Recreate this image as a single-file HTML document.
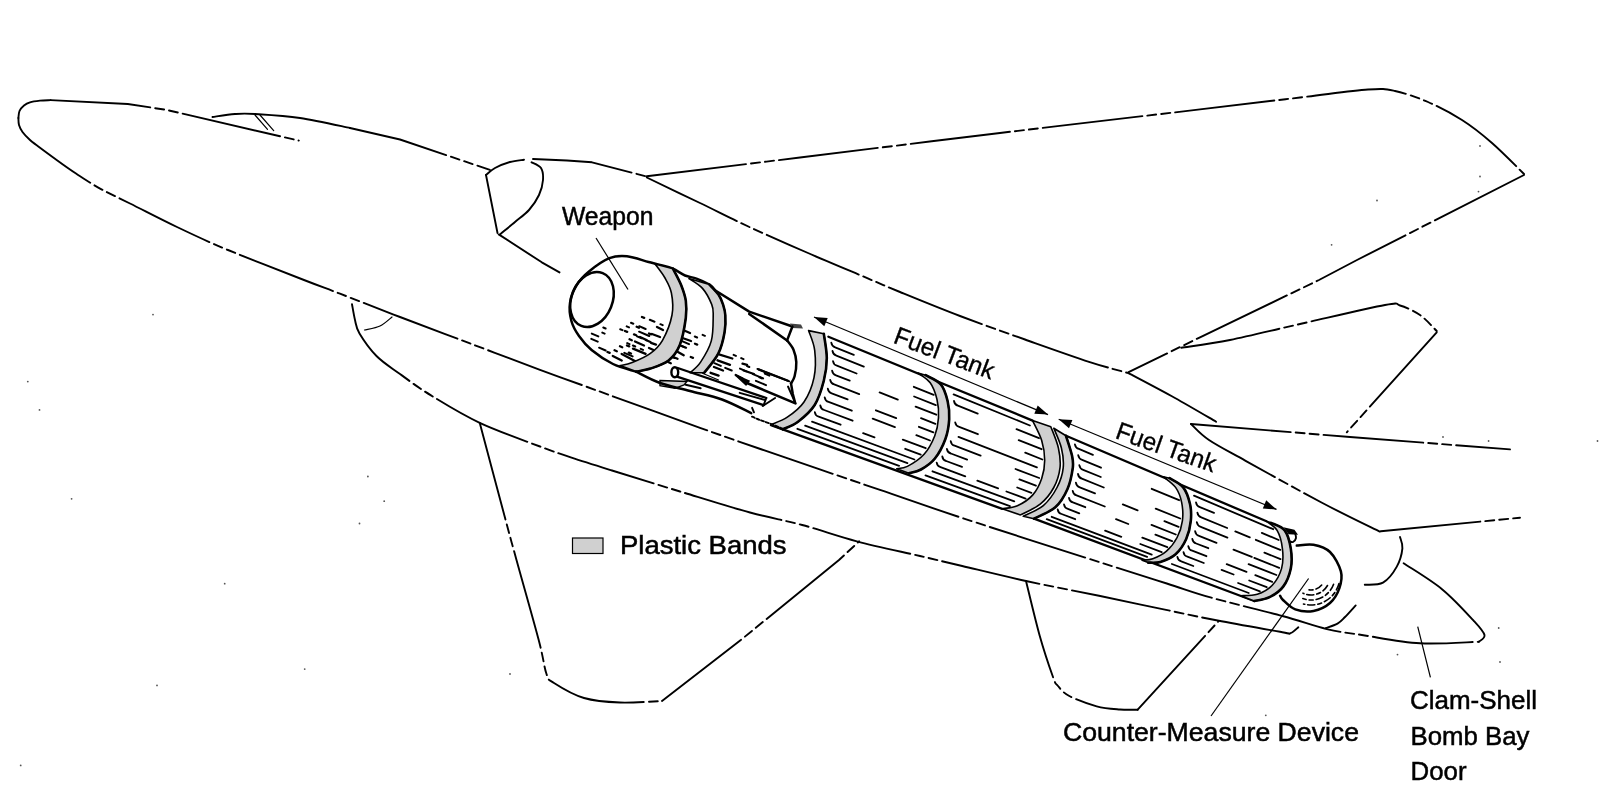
<!DOCTYPE html>
<html><head><meta charset="utf-8"><style>
html,body{margin:0;padding:0;background:#fff;width:1600px;height:790px;overflow:hidden}
svg{display:block;filter:grayscale(100%)}
.band{stroke:#000;stroke-width:1.6;stroke-linejoin:round}
.h{fill:none;stroke:#000;stroke-width:1.8;stroke-linecap:round}
.o{fill:none;stroke:#000;stroke-width:1.9;stroke-linecap:round;stroke-linejoin:round}
.d{stroke-dasharray:100 5 9 5 9 5}
.t{fill:none;stroke:#000;stroke-width:1.2}
.o.w{stroke-width:2.5}
.o.k{stroke-width:2.3}
text{font-family:"Liberation Sans",sans-serif;fill:#000;stroke:#000;stroke-width:0.5px}
</style></head><body>
<svg width="1600" height="790" viewBox="0 0 1600 790">
<path class="o" d="M 18.4,118.0 C 18.6,116.8 18.6,113.1 19.5,111.0 C 20.4,108.9 22.2,107.0 24.0,105.5 C 25.8,104.0 27.3,103.1 30.0,102.3 C 32.7,101.5 36.6,101.0 40.0,100.6 C 43.4,100.2 48.8,100.2 50.6,100.1" />
<path class="o d" d="M 50.6,100.1 L 127.8,104.0 L 167.0,110.0 L 298.8,140.6" />
<path class="o" d="M 212.5,117.0 C 216.2,116.5 227.9,114.5 235.0,114.0 C 242.1,113.5 244.2,113.3 255.0,114.0 C 265.8,114.7 284.2,115.7 300.0,118.0 C 315.8,120.3 341.7,126.3 350.0,128.0" />
<path class="o d" d="M 350.0,128.0 L 400.0,139.5 L 489.9,169.9" />
<path class="o t" d="M 255,115 L 267.5,129.4 M 260,115 L 273.7,130.6" />
<path class="o d" d="M 18.4,118.0 C 18.5,119.2 18.3,122.7 19.0,125.0 C 19.7,127.3 20.7,129.5 22.5,132.0 C 24.3,134.5 27.4,137.6 30.0,140.0 C 32.6,142.4 33.5,142.8 38.0,146.2 C 42.5,149.6 50.7,155.6 57.0,160.2 C 63.3,164.8 69.0,168.9 76.0,173.5 C 83.0,178.1 89.7,182.8 98.7,187.8 C 107.7,192.8 117.0,197.0 130.0,203.5 C 143.1,210.0 160.7,219.2 177.0,227.0 C 193.3,234.8 206.8,241.2 228.0,250.0 C 249.2,258.8 285.3,272.7 304.0,280.0 C 322.7,287.3 324.0,287.5 340.0,293.7 C 356.0,299.9 378.3,308.7 400.0,317.0 C 421.7,325.3 446.7,334.6 470.0,343.4 C 493.3,352.2 519.2,362.1 540.0,369.8 C 560.8,377.5 568.3,380.1 595.0,389.8 C 621.7,399.5 667.5,416.2 700.0,427.8 C 732.5,439.4 760.0,448.9 790.0,459.2 C 820.0,469.5 851.3,480.1 880.0,489.9 C 908.7,499.7 925.5,505.9 962.2,518.0 C 998.9,530.1 1065.9,551.4 1100.0,562.3 C 1134.1,573.2 1148.2,577.6 1166.8,583.5 C 1185.4,589.4 1192.2,592.3 1211.4,597.7 C 1230.7,603.1 1263.1,610.8 1282.3,616.0 C 1301.5,621.2 1313.3,625.9 1326.8,629.1 C 1340.3,632.3 1347.8,632.8 1363.3,635.2 C 1378.8,637.6 1400.8,642.2 1420.0,643.3 C 1439.2,644.4 1469.0,642.0 1478.8,641.8" />
<path class="o" d="M 1478.8,641.8 C 1479.8,640.7 1485.3,638.4 1484.5,635.0 C 1483.7,631.6 1481.2,628.9 1474.2,621.3 C 1467.2,613.7 1454.1,599.1 1442.3,589.4 C 1430.5,579.7 1410.0,567.6 1403.6,563.2" />
<path class="o d" d="M 352.0,304.3 C 352.5,306.9 353.8,315.1 355.0,320.0 C 356.2,324.9 355.9,327.5 359.5,333.5 C 363.1,339.5 369.8,349.2 376.5,356.0 C 383.2,362.8 390.9,367.4 400.0,374.0 C 409.1,380.6 417.7,387.3 431.0,395.4 C 444.3,403.5 461.5,414.3 479.7,422.8 C 497.9,431.3 524.7,440.7 540.0,446.5 C 555.3,452.3 559.5,453.7 571.5,457.7 C 583.5,461.7 593.9,464.9 612.0,470.5 C 630.1,476.1 657.0,484.5 680.0,491.5 C 703.0,498.5 729.6,506.9 750.0,512.5 C 770.4,518.1 784.4,520.2 802.2,525.0 C 820.0,529.8 837.2,536.1 856.8,541.3 C 876.4,546.5 902.4,551.9 920.0,556.0 C 937.6,560.1 944.5,561.8 962.2,566.0 C 979.9,570.2 1003.2,576.0 1026.0,581.0 C 1048.8,586.0 1076.7,591.2 1099.0,595.8 C 1121.3,600.4 1139.6,604.4 1160.0,608.6 C 1180.4,612.9 1201.1,617.4 1221.5,621.3 C 1241.9,625.2 1270.8,630.2 1282.3,632.2 C 1293.8,634.2 1287.7,634.1 1290.4,633.2 C 1293.1,632.4 1297.2,628.1 1298.5,627.1" />
<path class="o t" d="M 364.5,330.0 C 367.1,329.3 375.4,328.2 380.0,326.0 C 384.6,323.8 390.0,318.5 392.0,317.0" />
<path class="o d" d="M 486.0,175.0 L 497.5,233.0" />
<path class="o" d="M 486.0,175.0 C 487.5,173.8 491.0,170.2 495.0,168.0 C 499.0,165.8 505.2,163.4 510.0,162.0 C 514.8,160.6 521.7,160.1 524.0,159.7" />
<path class="o d" d="M 533.0,159.0 L 567.0,160.5 L 592.0,162.3 L 645.6,176.2" />
<path class="o d" d="M 531.6,162.3 C 533.2,163.2 539.1,165.1 541.0,168.0 C 542.9,170.9 543.3,175.5 543.0,180.0 C 542.7,184.5 541.3,190.0 539.0,195.0 C 536.7,200.0 533.0,205.5 529.0,210.0 C 525.0,214.5 519.8,217.9 515.0,222.0 C 510.2,226.1 502.5,232.3 500.0,234.4" />
<path class="o d" d="M 498.7,234.4 L 541.8,262.3 L 559.5,272.4" />
<path class="o d" d="M 646.8,177.5 C 655.7,181.8 682.9,194.8 700.0,203.0 C 717.1,211.2 731.4,218.7 749.4,227.0 C 767.4,235.3 788.3,244.4 808.0,253.0 C 827.7,261.6 852.5,271.9 867.8,278.4 C 883.1,284.9 884.6,285.7 900.0,292.0 C 915.4,298.3 939.2,308.1 960.0,316.0 C 980.8,323.9 1003.5,331.9 1025.0,339.5 C 1046.5,347.1 1071.7,356.1 1089.0,361.8 C 1106.3,367.4 1122.0,371.3 1128.6,373.2" />
<path class="o d" d="M 1128.6,373.2 C 1136.3,377.3 1159.8,389.5 1175.0,398.0 C 1190.2,406.5 1212.5,419.7 1220.0,424.0" />
<path class="o d" d="M 646.8,176.2 C 672.3,173.1 741.1,164.7 800.0,157.5 C 858.9,150.3 933.3,141.0 1000.0,133.0 C 1066.7,125.0 1150.0,115.3 1200.0,109.4 C 1250.0,103.5 1272.0,100.8 1300.0,97.5 C 1328.0,94.2 1352.2,90.6 1368.0,89.5 C 1383.8,88.4 1385.0,88.9 1395.0,91.0 C 1405.0,93.1 1416.8,97.2 1428.0,102.0 C 1439.2,106.8 1451.3,113.2 1462.0,120.0 C 1472.7,126.8 1481.7,134.0 1492.0,143.0 C 1502.3,152.0 1518.7,168.8 1524.0,174.0" />
<path class="o d" d="M 1524.0,175.0 L 1357.0,260.0 L 1319.0,280.0 L 1200.0,337.3 L 1128.6,372.2" />
<path class="o d" d="M 1181.3,347.8 C 1189.4,346.5 1210.2,344.0 1230.0,340.0 C 1249.8,336.0 1274.2,329.8 1300.0,324.0 C 1325.8,318.2 1368.3,308.1 1385.0,305.0 C 1401.7,301.9 1394.2,303.8 1400.0,305.5 C 1405.8,307.2 1413.9,310.8 1420.0,315.0 C 1426.1,319.2 1433.9,328.3 1436.7,331.0" />
<path class="o d" d="M 1436.7,332.3 L 1346.8,432.3" />
<path class="o d" d="M 1191.0,424.0 L 1350.0,437.0 L 1510.0,449.4" />
<path class="o d" d="M 1191.0,424.0 C 1194.0,426.7 1199.9,433.9 1209.0,440.0 C 1218.1,446.1 1226.8,450.4 1245.6,460.8 C 1264.3,471.2 1299.2,490.7 1321.5,502.5 C 1343.8,514.3 1370.0,526.8 1379.7,531.6" />
<path class="o d" d="M 1380.8,531.3 L 1520.0,517.7" />
<path class="o d" d="M 1400.0,537.0 C 1400.4,538.9 1402.9,543.5 1402.4,548.4 C 1401.9,553.3 1400.0,560.9 1396.8,566.6 C 1393.6,572.3 1388.3,579.6 1383.0,582.6 C 1377.7,585.6 1367.8,584.4 1364.8,584.8" />
<path class="o d" d="M 1355.7,605.4 C 1353.9,607.3 1348.0,614.0 1345.0,617.0 C 1342.0,620.0 1340.7,621.8 1337.5,623.6 C 1334.3,625.4 1327.9,627.3 1326.0,628.0" />
<path class="o d" d="M 479.7,422.8 C 484.0,439.0 499.5,497.1 505.6,520.0 C 511.7,542.9 511.0,540.0 516.5,560.0 C 522.0,580.0 533.7,621.0 538.7,640.0 C 543.7,659.0 544.0,666.8 546.5,674.0 C 549.0,681.2 547.8,679.0 554.0,683.0 C 560.2,687.0 573.0,694.8 584.0,698.0 C 595.0,701.2 607.0,702.0 620.0,702.5 C 633.0,703.0 655.0,701.2 662.0,701.0" />
<path class="o d" d="M 662.0,701.0 L 740.8,640.0 L 839.0,560.0 L 859.2,541.3" />
<path class="o d" d="M 1026.0,581.0 C 1028.3,590.1 1035.2,619.7 1039.7,635.7 C 1044.2,651.7 1050.0,668.6 1053.0,677.0 C 1056.0,685.4 1055.3,682.8 1058.0,686.0 C 1060.7,689.2 1062.8,692.6 1069.3,696.0 C 1075.8,699.4 1088.2,704.0 1096.7,706.3 C 1105.2,708.5 1113.2,708.9 1120.0,709.5 C 1126.8,710.1 1134.8,709.7 1137.7,709.7" />
<path class="o d" d="M 1137.7,709.7 L 1218.5,621.2" />
<path class="t" d="M 596,238 L 628,289.5" />
<path class="t" d="M 1308.6,578.5 L 1211,716" />
<path class="t" d="M 1417.7,626.7 L 1430.4,677.3" />
<path class="h" d="M 831.3,342.7 Q 831.9,346.5 835.2,347.3 L 853.8,354.9 M 832.5,351.0 Q 833.2,354.7 836.4,355.6 L 863.8,366.6 M 913.8,386.8 L 933.7,394.8 M 833.0,361.1 Q 833.7,364.9 836.9,365.7 L 856.6,373.5 M 914.1,396.5 L 935.8,405.1 M 832.1,370.7 Q 832.7,374.5 836.0,375.3 L 849.7,380.6 M 879.6,392.4 L 897.8,399.6 M 915.6,406.6 L 936.3,414.7 M 830.2,379.8 Q 830.9,383.6 834.2,384.4 L 859.2,394.1 M 921.0,418.2 L 935.4,423.8 M 827.8,388.7 Q 828.4,392.5 831.7,393.3 L 847.6,399.4 M 875.9,410.3 L 896.2,418.1 M 918.9,426.8 L 933.4,432.4 M 824.7,397.3 Q 825.3,401.1 828.6,401.9 L 851.8,410.7 M 872.7,418.6 L 894.9,427.1 M 916.3,435.2 L 930.0,440.5 M 820.3,405.5 Q 820.9,409.2 824.2,410.0 L 852.6,420.7 M 902.8,439.6 L 925.7,448.2 M 814.8,412.1 Q 815.4,415.9 818.7,416.6 L 840.6,424.7 M 863.1,433.1 L 874.5,437.4 M 905.2,448.8 L 920.7,454.6 M 812.0,421.7 L 914.4,459.5 M 805.1,425.7 L 907.4,463.1 M 797.4,428.8 L 899.1,465.8 M 953.6,394.4 L 1029.9,425.5 M 954.0,401.0 Q 954.6,404.8 957.9,405.6 L 977.7,413.6 M 1016.5,429.2 L 1039.0,438.2 M 1018.7,440.2 L 1041.6,449.2 M 955.2,422.3 Q 955.9,426.0 959.2,426.8 L 977.9,434.2 M 1025.2,452.7 L 1042.4,459.5 M 958.5,436.9 L 1036.9,467.3 M 950.7,441.1 Q 951.3,444.9 954.6,445.7 L 980.6,455.6 M 1015.5,469.0 L 1039.2,478.0 M 946.9,449.0 Q 947.6,452.8 950.9,453.5 L 967.1,459.6 M 1019.4,479.4 L 1035.9,485.7 M 942.3,456.5 Q 942.9,460.3 946.2,461.0 L 962.0,466.9 M 1017.2,487.5 L 1031.4,492.8 M 936.7,462.6 Q 937.3,466.4 940.6,467.1 L 965.3,476.3 M 977.3,480.7 L 998.1,488.4 M 1006.4,491.5 L 1025.6,498.6 M 932.5,471.3 L 1014.3,501.3 M 925.5,475.4 L 1009.9,506.1 M 1074.9,444.3 Q 1075.6,448.1 1078.9,448.9 L 1092.9,454.8 M 1078.2,455.2 Q 1078.9,459.0 1082.2,459.8 L 1101.0,467.7 M 1151.7,488.8 L 1179.1,500.2 M 1079.3,465.1 Q 1080.0,468.9 1083.2,469.8 L 1100.8,477.0 M 1078.0,474.0 Q 1078.6,477.8 1081.9,478.7 L 1103.8,487.5 M 1155.7,508.6 L 1180.2,518.5 M 1075.9,482.6 Q 1076.5,486.4 1079.8,487.3 L 1095.0,493.3 M 1122.8,504.4 L 1137.6,510.4 M 1164.4,521.1 L 1178.6,526.8 M 1072.7,490.8 Q 1073.4,494.6 1076.6,495.4 L 1104.8,506.5 M 1151.5,524.9 L 1175.8,534.5 M 1069.0,497.8 Q 1069.6,501.6 1072.9,502.4 L 1085.3,507.2 M 1116.0,519.2 L 1128.3,524.0 M 1155.4,534.6 L 1172.1,541.1 M 1064.0,504.4 Q 1064.6,508.1 1067.9,508.9 L 1079.3,513.3 M 1142.3,537.6 L 1167.3,547.2 M 1057.7,509.5 Q 1058.3,513.2 1061.6,514.0 L 1075.2,519.2 M 1105.1,530.6 L 1121.3,536.8 M 1140.3,544.0 L 1161.7,552.2 M 1051.7,516.8 L 1151.7,554.6 M 1046.7,519.2 L 1147.1,556.9 M 1194.0,495.7 L 1273.2,529.2 M 1196.0,502.4 Q 1196.6,506.2 1199.9,507.1 L 1214.0,512.9 M 1261.8,532.9 L 1278.7,540.0 M 1197.4,512.7 Q 1198.0,516.5 1201.3,517.4 L 1227.2,528.0 M 1235.3,531.4 L 1249.8,537.3 M 1255.8,539.8 L 1280.3,549.9 M 1196.8,522.2 Q 1197.5,526.0 1200.8,526.8 L 1227.4,537.6 M 1264.4,552.6 L 1280.5,559.1 M 1195.1,531.2 Q 1195.7,535.0 1199.0,535.8 L 1216.5,542.8 M 1233.5,549.6 L 1251.8,556.9 M 1254.3,557.9 L 1279.2,567.8 M 1192.3,538.9 Q 1192.9,542.7 1196.2,543.5 L 1208.3,548.2 M 1248.6,564.1 L 1276.4,575.0 M 1188.3,546.1 Q 1188.9,549.9 1192.2,550.7 L 1206.4,556.2 M 1226.7,564.1 L 1246.5,571.8 M 1255.3,575.2 L 1272.2,581.8 M 1183.5,552.2 Q 1184.1,556.0 1187.4,556.7 L 1203.8,563.0 M 1221.6,569.9 L 1233.6,574.5 M 1249.2,580.5 L 1266.7,587.2 M 1177.4,556.9 Q 1178.0,560.7 1181.3,561.4 L 1193.3,566.0 M 1238.1,583.0 L 1259.9,591.3 M 1171.9,564.0 L 1248.7,593.0"/>
<path class="o k" d="M 828.4,336.7 L 1032.6,420.6" />
<path class="o k" d="M 771.0,425.2 L 1002.2,508.8" />
<path class="o k" d="M 1066.0,435.8 L 1266.5,521.3" />
<path class="o k" d="M 1034.0,518.7 L 1254.3,601.0" />
<path class="band" d="M 823.8,333.7 C 824.3,337.8 826.8,350.1 826.8,358.0 C 826.8,365.9 825.8,373.0 823.8,380.8 C 821.8,388.6 819.0,398.2 814.7,405.0 C 810.4,411.8 803.3,417.7 798.0,421.8 C 792.7,425.9 785.3,428.1 782.8,429.4  L 770.6,424.8 C 773.4,423.5 781.7,421.0 787.3,417.2 C 792.9,413.4 799.5,408.6 804.0,402.0 C 808.5,395.4 812.2,386.3 814.0,377.7 C 815.8,369.1 815.6,358.2 814.7,350.4 C 813.8,342.5 809.6,333.9 808.6,330.6  Z" fill="#d0d0d0"/>
<path class="o" d="M 823.8,333.7 C 824.3,337.8 826.8,350.1 826.8,358.0 C 826.8,365.9 825.8,373.0 823.8,380.8 C 821.8,388.6 819.0,398.2 814.7,405.0 C 810.4,411.8 803.3,417.7 798.0,421.8 C 792.7,425.9 785.3,428.1 782.8,429.4 " style="stroke-width:2.6"/>
<path class="band" d="M 925.6,375.2 C 928.1,376.7 937.1,380.0 940.8,384.3 C 944.5,388.6 946.2,395.2 947.6,401.0 C 949.0,406.8 949.6,413.0 949.2,419.3 C 948.8,425.6 947.8,432.4 945.4,439.0 C 943.0,445.6 938.8,453.7 934.7,458.8 C 930.6,463.9 925.3,467.1 921.0,469.5 C 916.7,471.9 910.9,472.7 908.9,473.3  L 896.7,468.7 C 898.5,468.3 902.8,468.8 907.4,466.4 C 912.0,464.0 919.5,459.4 924.1,454.3 C 928.7,449.2 932.3,442.1 934.7,436.0 C 937.1,429.9 938.1,423.9 938.5,417.8 C 938.9,411.7 938.4,405.3 937.0,399.5 C 935.6,393.7 933.4,387.2 930.2,382.8 C 927.0,378.4 920.0,374.5 918.0,372.9  Z" fill="#d0d0d0"/>
<path class="o" d="M 925.6,375.2 C 928.1,376.7 937.1,380.0 940.8,384.3 C 944.5,388.6 946.2,395.2 947.6,401.0 C 949.0,406.8 949.6,413.0 949.2,419.3 C 948.8,425.6 947.8,432.4 945.4,439.0 C 943.0,445.6 938.8,453.7 934.7,458.8 C 930.6,463.9 925.3,467.1 921.0,469.5 C 916.7,471.9 910.9,472.7 908.9,473.3 " style="stroke-width:2.6"/>
<path class="band" d="M 1050.8,426.7 C 1052.1,430.2 1056.9,441.1 1058.4,448.0 C 1059.9,454.9 1060.8,461.2 1060.0,467.8 C 1059.2,474.4 1057.1,481.4 1053.8,487.5 C 1050.5,493.6 1045.8,499.6 1040.2,504.2 C 1034.6,508.8 1023.7,513.1 1020.4,514.9  L 1002.2,508.8 C 1004.7,508.3 1012.3,508.0 1017.4,505.7 C 1022.5,503.4 1028.5,499.7 1032.6,495.1 C 1036.6,490.6 1039.7,484.2 1041.7,478.4 C 1043.7,472.6 1044.7,466.5 1044.7,460.2 C 1044.7,453.9 1043.7,447.0 1041.7,440.4 C 1039.7,433.8 1034.1,423.9 1032.6,420.6  Z" fill="#d0d0d0"/>
<path class="band" d="M 1066.0,435.8 C 1067.0,439.1 1070.9,450.3 1072.0,455.6 C 1073.1,460.9 1073.5,462.2 1072.8,467.8 C 1072.0,473.4 1070.4,482.4 1067.5,489.0 C 1064.6,495.6 1060.9,502.4 1055.3,507.3 C 1049.7,512.2 1037.5,516.8 1034.0,518.7  L 1023.3,516.3 C 1026.6,514.5 1037.7,510.4 1043.3,505.6 C 1048.9,500.8 1053.7,493.8 1057.0,487.5 C 1060.3,481.2 1062.5,474.4 1063.2,467.8 C 1063.9,461.2 1063.0,454.6 1061.4,448.0 C 1059.8,441.4 1055.1,431.5 1053.8,428.2  Z" fill="#d0d0d0"/>
<path class="o" d="M 1066.0,435.8 C 1067.0,439.1 1070.9,450.3 1072.0,455.6 C 1073.1,460.9 1073.5,462.2 1072.8,467.8 C 1072.0,473.4 1070.4,482.4 1067.5,489.0 C 1064.6,495.6 1060.9,502.4 1055.3,507.3 C 1049.7,512.2 1037.5,516.8 1034.0,518.7 " style="stroke-width:2.6"/>
<path class="band" d="M 1169.5,478.2 C 1171.8,479.7 1179.8,483.1 1183.2,487.4 C 1186.6,491.7 1188.7,498.4 1190.0,504.0 C 1191.3,509.6 1191.4,515.0 1190.8,520.8 C 1190.2,526.6 1188.7,533.4 1186.2,539.0 C 1183.7,544.6 1179.9,550.5 1175.6,554.3 C 1171.3,558.1 1165.0,560.5 1160.4,561.9 C 1155.8,563.3 1150.2,562.5 1148.2,562.6  L 1142.2,560.3 C 1144.0,560.0 1148.8,560.3 1152.8,558.8 C 1156.8,557.3 1162.5,554.8 1166.5,551.2 C 1170.5,547.7 1174.4,542.6 1177.1,537.5 C 1179.8,532.4 1181.6,526.6 1182.4,520.8 C 1183.2,515.0 1182.8,508.2 1181.7,502.6 C 1180.6,497.0 1178.6,491.7 1175.6,487.4 C 1172.5,483.1 1165.4,478.5 1163.4,476.7  Z" fill="#d0d0d0"/>
<path class="o" d="M 1169.5,478.2 C 1171.8,479.7 1179.8,483.1 1183.2,487.4 C 1186.6,491.7 1188.7,498.4 1190.0,504.0 C 1191.3,509.6 1191.4,515.0 1190.8,520.8 C 1190.2,526.6 1188.7,533.4 1186.2,539.0 C 1183.7,544.6 1179.9,550.5 1175.6,554.3 C 1171.3,558.1 1165.0,560.5 1160.4,561.9 C 1155.8,563.3 1150.2,562.5 1148.2,562.6 " style="stroke-width:2.6"/>
<path class="band" d="M 1271.0,522.8 C 1273.3,524.1 1281.4,526.1 1284.7,530.4 C 1288.0,534.7 1289.8,542.3 1290.8,548.6 C 1291.8,554.9 1292.1,562.1 1290.8,568.4 C 1289.5,574.7 1286.8,581.8 1283.2,586.6 C 1279.7,591.4 1274.3,594.8 1269.5,597.2 C 1264.7,599.6 1256.8,600.4 1254.3,601.0  L 1240.6,595.7 C 1243.4,595.5 1252.0,596.0 1257.3,594.2 C 1262.6,592.4 1268.5,589.3 1272.5,585.0 C 1276.5,580.7 1279.9,574.5 1281.6,568.4 C 1283.2,562.3 1283.2,554.9 1282.4,548.6 C 1281.7,542.3 1279.8,535.0 1277.1,530.4 C 1274.4,525.8 1268.3,522.8 1266.5,521.3  Z" fill="#d0d0d0"/>
<path class="o" d="M 1271.0,522.8 C 1273.3,524.1 1281.4,526.1 1284.7,530.4 C 1288.0,534.7 1289.8,542.3 1290.8,548.6 C 1291.8,554.9 1292.1,562.1 1290.8,568.4 C 1289.5,574.7 1286.8,581.8 1283.2,586.6 C 1279.7,591.4 1274.3,594.8 1269.5,597.2 C 1264.7,599.6 1256.8,600.4 1254.3,601.0 " style="stroke-width:2.6"/>
<path class="h" style="stroke-width:2.3" d="M 636.7,326.8 l 2.2,0.9 M 634.0,334.4 l 2.2,0.9 M 649.0,333.5 l 2.2,0.9 M 629.6,339.3 l 2.2,0.9 M 620.0,346.3 l 2.2,0.9 M 627.0,345.5 l 2.2,0.9 M 607.5,352.0 l 2.2,0.9 M 614.6,350.3 l 2.2,0.9 M 628.8,352.6 l 2.2,0.9 M 695.0,343.7 l 2.2,0.9 M 690.8,357.0 l 2.2,0.9 M 668.6,362.3 l 2.2,0.9 M 759.6,377.3 l 2.2,0.9 M 642.0,317.0 l 2.2,0.9 M 625.0,331.0 l 2.2,0.9 M 657.0,327.0 L 663.0,330.0 M 640.0,337.0 L 646.5,340.0 M 652.0,334.0 L 660.0,337.0 M 635.0,341.5 L 644.0,345.5 M 651.0,342.8 L 656.0,344.6 M 633.0,348.6 L 645.6,353.9 M 649.0,348.0 L 653.5,350.0 M 621.7,353.9 L 635.8,361.4 M 612.8,356.0 L 621.7,360.5 M 681.0,337.5 L 691.0,341.0 M 679.0,345.0 L 686.0,347.7 M 677.5,351.7 L 683.7,355.2 M 670.5,356.0 L 677.5,358.8 M 683.0,330.0 L 690.0,333.0 M 719.7,354.6 L 732.3,358.5 M 717.5,360.3 L 730.0,364.8 M 714.0,367.0 L 723.0,370.5 M 710.6,372.8 L 718.6,375.6 M 742.5,363.7 L 747.0,364.8 M 743.7,370.5 L 754.0,374.0 M 758.5,369.4 L 788.0,380.8 M 735.7,375.0 L 742.5,378.5"/>
<path class="h" style="stroke-width:2.0" d="M 649.8,319.8 L 654.5,321.7 M 660.4,324.2 L 662.7,325.2 M 631.0,322.8 L 633.3,323.7 M 639.2,326.2 L 645.6,329.0 M 626.7,326.4 L 629.0,327.4 M 639.1,331.7 L 649.2,336.0 M 620.2,329.2 L 622.5,330.1 M 637.1,336.4 L 641.7,338.3 M 645.8,340.0 L 650.4,342.0 M 603.3,327.5 L 605.6,328.5 M 602.3,332.6 L 604.6,333.6 M 627.2,343.1 L 629.5,344.1 M 632.9,345.5 L 635.2,346.5 M 640.7,348.9 L 643.0,349.9 M 591.8,333.6 L 598.3,336.4 M 591.3,338.9 L 597.7,341.6 M 624.3,352.9 L 632.6,356.4 M 599.1,347.7 L 605.6,350.5 M 702.6,334.8 L 704.9,335.8 M 694.8,336.5 L 697.1,337.5 M 682.6,341.3 L 689.0,344.1 M 682.1,346.1 L 684.4,347.1 M 672.5,357.0 L 674.8,358.0 M 733.6,354.9 L 735.9,355.9 M 741.2,358.1 L 743.5,359.1 M 747.0,366.0 L 749.3,367.0 M 764.8,373.6 L 769.4,375.6 M 740.0,368.6 L 746.4,371.3 M 752.9,374.1 L 763.1,378.4 M 714.4,363.2 L 720.8,365.9 M 725.2,367.8 L 731.7,370.5 M 755.9,380.8 L 766.0,385.1"/>
<path class="o w" d="M 636.0,371.6 C 632.2,370.3 620.4,367.6 613.0,364.0 C 605.6,360.4 597.3,354.7 591.6,350.0 C 585.9,345.3 582.4,340.8 579.0,336.0 C 575.6,331.2 572.9,326.5 571.4,321.0 C 569.9,315.5 569.1,308.9 570.0,303.0 C 570.9,297.1 573.3,290.6 576.5,285.4 C 579.7,280.1 583.5,276.0 589.0,271.5 C 594.5,267.0 603.1,260.7 609.4,258.2 C 615.7,255.7 620.5,255.7 627.0,256.3 C 633.5,256.9 643.1,260.6 648.6,262.0 C 654.1,263.4 656.0,263.8 660.0,264.9 C 664.0,266.0 668.7,266.9 672.9,268.7 C 677.1,270.5 681.1,273.9 685.0,275.5 C 688.9,277.1 692.4,277.1 696.5,278.6 C 700.6,280.1 706.3,282.7 709.4,284.6 C 712.5,286.6 714.1,289.4 715.0,290.3" />
<ellipse cx="592" cy="299.5" rx="20.5" ry="28.5" transform="rotate(22 592 299.5)" class="o w"/>
<path class="band" d="M 673.0,268.7 C 674.4,271.5 679.2,280.1 681.3,285.4 C 683.4,290.7 685.0,295.2 685.8,300.6 C 686.5,306.0 686.8,310.6 685.8,318.0 C 684.8,325.4 682.6,338.2 679.7,345.3 C 676.8,352.4 673.5,356.6 668.6,360.5 C 663.7,364.4 655.8,366.8 650.4,368.6 C 645.0,370.5 638.6,371.1 636.2,371.6  L 620.0,365.6 C 622.0,365.1 627.1,364.5 632.2,362.5 C 637.3,360.5 645.4,357.1 650.4,353.4 C 655.4,349.7 658.9,346.7 662.5,340.3 C 666.1,333.9 670.5,322.9 672.0,315.0 C 673.5,307.1 672.6,299.2 671.4,293.0 C 670.2,286.8 667.7,282.8 665.0,278.0 C 662.3,273.2 656.7,266.3 655.0,264.0  Z" fill="#d0d0d0"/>
<path class="o" d="M 673.0,268.7 C 674.4,271.5 679.2,280.1 681.3,285.4 C 683.4,290.7 685.0,295.2 685.8,300.6 C 686.5,306.0 686.8,310.6 685.8,318.0 C 684.8,325.4 682.6,338.2 679.7,345.3 C 676.8,352.4 673.5,356.6 668.6,360.5 C 663.7,364.4 655.8,366.8 650.4,368.6 C 645.0,370.5 638.6,371.1 636.2,371.6 " style="stroke-width:2.6"/>
<path class="band" d="M 709.4,284.6 C 710.9,286.2 716.2,291.2 718.5,294.5 C 720.8,297.8 721.9,301.0 723.0,304.4 C 724.1,307.8 725.0,310.4 725.3,315.0 C 725.6,319.6 725.8,325.6 724.6,332.0 C 723.5,338.4 721.8,346.5 718.4,353.3 C 715.0,360.1 706.6,369.6 704.2,372.8  L 690.0,372.8 C 691.8,371.0 697.1,367.4 700.6,362.1 C 704.1,356.8 709.2,348.8 711.3,340.9 C 713.4,333.0 713.1,321.1 713.2,315.0 C 713.3,308.9 713.5,308.8 711.7,304.4 C 709.9,300.0 706.3,292.7 702.5,288.4 C 698.7,284.1 691.2,280.2 688.9,278.6  Z" fill="#d0d0d0"/>
<path class="o" d="M 709.4,284.6 C 710.9,286.2 716.2,291.2 718.5,294.5 C 720.8,297.8 721.9,301.0 723.0,304.4 C 724.1,307.8 725.0,310.4 725.3,315.0 C 725.6,319.6 725.8,325.6 724.6,332.0 C 723.5,338.4 721.8,346.5 718.4,353.3 C 715.0,360.1 706.6,369.6 704.2,372.8 " style="stroke-width:2.6"/>
<path d="M 660,380.5 L 687,381.5 L 684,385 L 675,388.3 L 660,385.7 Z" fill="#d0d0d0" stroke="#000" stroke-width="1.4"/>
<path class="o w" d="M 715.0,290.3 L 749.2,311.6 L 791.0,326.0" />
<path class="o w" d="M 749.2,313.9 L 787.1,340.4" />
<path d="M 790,323.5 L 801,324.5 L 803,328.5 L 792,328 Z" fill="#444"/>
<path class="o w" d="M 792.4,326.5 L 787.1,340.4" />
<path class="o w" d="M 787.1,340.4 C 788.2,341.9 792.0,346.1 793.5,349.7 C 795.0,353.3 796.1,357.7 796.3,362.1 C 796.5,366.5 795.5,372.8 794.6,376.3 C 793.7,379.9 791.6,382.2 791.0,383.4" />
<path class="o w" d="M 791.0,383.4 L 792.8,394.0 L 795.0,402.4" />
<path class="o" d="M 677.7,368.0 L 766.3,398.0" style="stroke-width:2.3"/>
<path class="o" d="M 677.7,376.8 L 763.6,405.2" style="stroke-width:2.3"/>
<path class="o" d="M 766.3,398.0 L 763.6,405.2" />
<path class="o" d="M 762.7,406.0 L 775.1,398.0" />
<ellipse cx="674.8" cy="372.3" rx="3.4" ry="5" class="o" style="stroke-width:2.4"/>
<path class="o" d="M 685.7,384.8 L 700.7,388.3" />
<path class="o" d="M 739.7,392.8 L 764.5,399.9" />
<path class="o t" d="M 702.5,373.3 L 718.5,380.0" />
<path class="o w" d="M 636.0,371.6 C 640.0,373.5 651.0,379.8 660.0,383.0 C 669.0,386.2 679.7,388.2 690.0,391.0 C 700.3,393.8 711.8,395.8 722.0,399.5 C 732.2,403.2 746.3,410.8 751.2,413.1" />
<path class="o" d="M 752.1,407.8 L 754.0,412.3" />
<path class="o" d="M 752.0,416.7 C 753.3,417.2 756.9,418.8 760.0,420.0 C 763.1,421.2 767.0,422.4 770.7,423.8 C 774.4,425.2 780.5,427.8 782.4,428.6" stroke-dasharray="3 2"/>
<path d="M 735.3,375 L 749,381 L 746,385 Z" fill="#000" stroke="#000" stroke-width="1.5"/>
<path class="o w" d="M 747.0,383.0 L 795.5,403.4" />
<path class="o" d="M 757.4,368.9 L 789.3,381.3" />
<path class="o" d="M 788.0,386.5 L 795.0,402.4" />
<path class="t" d="M 814.0,317.0 L 1048.0,414.6" />
<path d="M 814.0,317.0 L 824.3,326.2 L 827.7,317.9 Z" fill="#000"/>
<path d="M 1048.0,414.6 L 1034.3,413.7 L 1037.7,405.4 Z" fill="#000"/>
<path class="t" d="M 1058.7,419.2 L 1276.5,509.4" />
<path d="M 1058.7,419.2 L 1069.0,428.3 L 1072.4,420.0 Z" fill="#000"/>
<path d="M 1276.5,509.4 L 1262.8,508.6 L 1266.2,500.3 Z" fill="#000"/>
<path class="o w" d="M 1296.8,545.6 C 1299.6,545.5 1308.0,543.7 1313.5,544.8 C 1319.0,545.9 1325.4,547.6 1330.0,552.0 C 1334.6,556.4 1339.3,565.4 1340.9,571.4 C 1342.5,577.4 1341.2,582.8 1339.4,588.1 C 1337.6,593.4 1334.3,599.2 1330.0,603.0 C 1325.7,606.8 1319.3,609.8 1313.5,610.9 C 1307.7,612.0 1300.4,611.2 1295.3,609.4 C 1290.2,607.6 1285.5,602.3 1283.0,600.0 C 1280.5,597.7 1280.6,596.4 1280.1,595.7 "/>
<path d="M 1285.5,528.5 L 1294,530.5 L 1296.5,534 L 1289,533.5 Z" fill="#000" stroke="#000" stroke-width="1.5"/>
<path class="o" d="M 1295.0,533.0 C 1295.2,533.8 1296.3,536.5 1296.0,538.0 C 1295.7,539.5 1294.0,541.4 1293.0,542.0 C 1292.0,542.6 1290.5,541.6 1290.0,541.5" />
<path class="h" style="stroke-width:1.6" d="M 1339.0,583.5 A 29 29 0 0 1 1303.5,604.0" stroke-dasharray="7 3 4 3"/>
<path class="h" style="stroke-width:1.6" d="M 1333.6,584.2 A 24 24 0 0 1 1302.8,598.6" stroke-dasharray="7 3 4 3"/>
<path class="h" style="stroke-width:1.6" d="M 1327.5,585.5 A 19 19 0 0 1 1303.0,593.2" stroke-dasharray="7 3 4 3"/>
<path class="h" style="stroke-width:1.6" d="M 1321.7,585.0 A 14 14 0 0 1 1306.2,589.2" stroke-dasharray="7 3 4 3"/>
<circle cx="39.5" cy="409.9" r="0.9" fill="#555"/>
<circle cx="71.6" cy="498.8" r="0.9" fill="#555"/>
<circle cx="367.9" cy="476.5" r="0.9" fill="#555"/>
<circle cx="384.2" cy="501.2" r="0.9" fill="#555"/>
<circle cx="359.5" cy="523.5" r="0.9" fill="#555"/>
<circle cx="224.7" cy="583.7" r="0.9" fill="#555"/>
<circle cx="304.7" cy="669.1" r="0.9" fill="#555"/>
<circle cx="157.0" cy="685.4" r="0.9" fill="#555"/>
<circle cx="20.7" cy="765.4" r="0.9" fill="#555"/>
<circle cx="510.0" cy="674.0" r="0.9" fill="#555"/>
<circle cx="153.0" cy="314.6" r="0.9" fill="#555"/>
<circle cx="27.8" cy="381.6" r="0.9" fill="#555"/>
<circle cx="1443.0" cy="437.0" r="0.9" fill="#555"/>
<circle cx="1488.6" cy="441.0" r="0.9" fill="#555"/>
<circle cx="1597.5" cy="441.0" r="0.9" fill="#555"/>
<circle cx="1480.0" cy="146.0" r="0.9" fill="#555"/>
<circle cx="1480.0" cy="176.5" r="0.9" fill="#555"/>
<circle cx="1478.5" cy="191.6" r="0.9" fill="#555"/>
<circle cx="1377.0" cy="200.5" r="0.9" fill="#555"/>
<circle cx="1331.6" cy="244.8" r="0.9" fill="#555"/>
<circle cx="1498.7" cy="628.0" r="0.9" fill="#555"/>
<circle cx="1397.5" cy="654.6" r="0.9" fill="#555"/>
<circle cx="1500.0" cy="662.0" r="0.9" fill="#555"/>
<circle cx="1265.8" cy="715.3" r="0.9" fill="#555"/>
<text x="562" y="225.4" font-size="26" textLength="91.5" lengthAdjust="spacingAndGlyphs">Weapon</text>
<rect x="572.5" y="538" width="30.5" height="15.5" fill="#d0d0d0" stroke="#000" stroke-width="1.2"/>
<text x="620" y="553.5" font-size="25" textLength="166.5" lengthAdjust="spacingAndGlyphs">Plastic Bands</text>
<text x="1063" y="741" font-size="25" textLength="296" lengthAdjust="spacingAndGlyphs">Counter-Measure Device</text>
<text x="1410" y="709.2" font-size="26" textLength="127" lengthAdjust="spacingAndGlyphs">Clam-Shell</text>
<text x="1410.5" y="744.8" font-size="26" textLength="119" lengthAdjust="spacingAndGlyphs">Bomb Bay</text>
<text x="1410.5" y="780.3" font-size="26" textLength="56" lengthAdjust="spacingAndGlyphs">Door</text>
<text transform="translate(892.3,342.5) rotate(20.6)" font-size="25" style="stroke-width:0.35px" textLength="105" lengthAdjust="spacingAndGlyphs">Fuel Tank</text>
<text transform="translate(1114.2,437.8) rotate(19.5)" font-size="25" style="stroke-width:0.35px" textLength="104.4" lengthAdjust="spacingAndGlyphs">Fuel Tank</text>
</svg>
</body></html>
